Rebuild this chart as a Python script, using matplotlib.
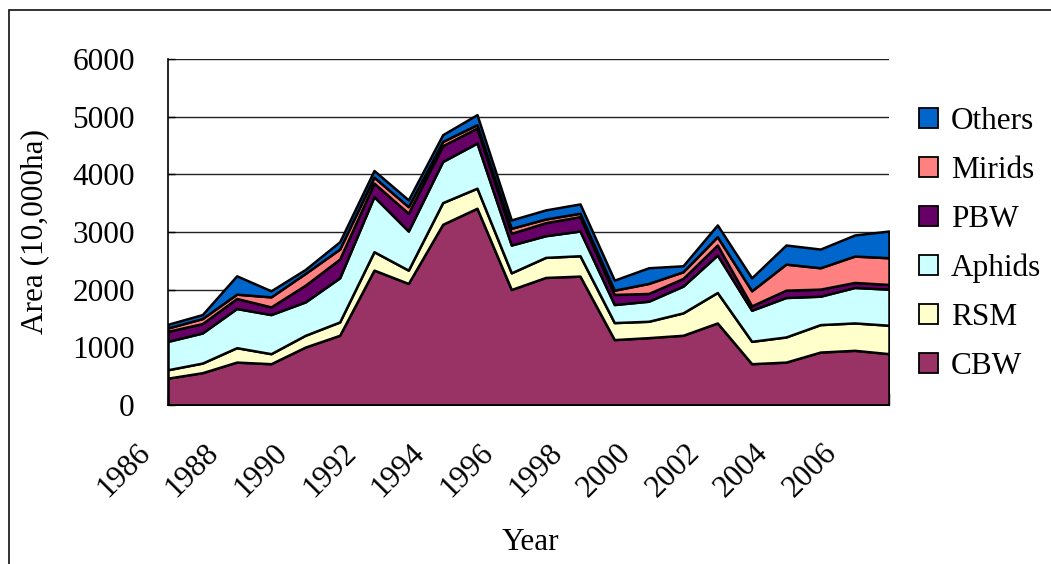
import matplotlib.pyplot as plt
import matplotlib.transforms as mtransforms
from matplotlib.patches import Patch, Rectangle

years = list(range(1986, 2008))

# areas per pest, 10,000 ha
cbw = [466, 560, 744, 716, 1005, 1209, 2339, 2108, 3133, 3412, 2003,
       2212, 2235, 1134, 1168, 1209, 1423, 716, 744, 918, 948, 890]
rsm = [146, 167, 250, 174, 204, 231, 319, 231, 377, 348, 289,
       348, 353, 295, 284, 388, 528, 388, 436, 476, 475, 493]
aphids = [492, 522, 679, 678, 579, 765, 956, 678, 713, 782, 482,
          376, 429, 313, 348, 464, 649, 539, 684, 493, 615, 626]
pbw = [174, 163, 174, 133, 290, 325, 233, 308, 273, 261, 203,
       226, 249, 175, 134, 133, 174, 76, 127, 122, 87, 81]
mirids = [58, 87, 75, 174, 204, 174, 104, 115, 75, 58, 87,
          64, 59, 74, 174, 116, 145, 261, 452, 371, 458, 463]
others = [64, 69, 318, 105, 69, 127, 115, 117, 116, 174, 145,
          157, 162, 174, 272, 104, 203, 225, 331, 324, 365, 464]

names = ["CBW", "RSM", "Aphids", "PBW", "Mirids", "Others"]
colors = ["#993366", "#FFFFCC", "#CCFFFF", "#660066", "#FF8080", "#0066CC"]

plt.rcParams['font.family'] = ['Liberation Serif', 'DejaVu Serif']
fs = 22.5

fig = plt.figure(figsize=(10.51, 5.64), dpi=100)
ax = fig.add_axes([168 / 1051, 1 - 405 / 564, (889 - 168) / 1051, (405 - 59) / 564])

# outer frame (only top and left edges visible in the original)
fig.patches.append(Rectangle((9 / 1051, -0.1), 1.2, 1 - 10 / 564 + 0.1,
                             transform=fig.transFigure, fill=False,
                             edgecolor="#222222", linewidth=1.3))

idx = list(range(len(years)))
ax.stackplot(idx, cbw, rsm, aphids, pbw, mirids, others,
             colors=colors, edgecolor="black", linewidth=1.8, zorder=3)

ax.set_xlim(0, len(years) - 1)
ax.set_ylim(0, 6000)
ax.set_yticks(range(0, 6001, 1000))
ax.yaxis.grid(True, color="#222222", linewidth=1.0, zorder=0)
ax.set_axisbelow(True)
for s in ["top", "right"]:
    ax.spines[s].set_visible(False)
ax.spines["left"].set_linewidth(1.2)
ax.spines["bottom"].set_linewidth(1.2)
ax.spines["left"].set_zorder(5)
ax.spines["bottom"].set_zorder(5)

ax.set_xticks(idx)
ax.set_xticklabels([str(y) if (y - 1986) % 2 == 0 else "" for y in years],
                   fontsize=fs, rotation=45, ha="right", va="top")
ax.tick_params(axis="x", direction="in", length=9, width=1, pad=24, zorder=6)
ax.tick_params(axis="y", direction="in", length=5, width=1, pad=24, labelsize=fs)

shift = mtransforms.ScaledTranslation(-12 / 100, 0, fig.dpi_scale_trans)
for lbl in ax.get_xticklabels():
    lbl.set_transform(lbl.get_transform() + shift)

fig.text(35 / 1051, 1 - 232 / 564, "Area (10,000ha)", rotation=90,
         ha="center", va="center", fontsize=fs)
fig.text(530 / 1051, 1 - 542 / 564, "Year", ha="center", va="center", fontsize=fs)

handles = [Patch(facecolor=c, edgecolor="black", linewidth=1.3) for c in colors]
fig.legend(handles[::-1], names[::-1], loc="center left",
           bbox_to_anchor=(919 / 1051, 1 - 244 / 564), frameon=False,
           fontsize=fs, handlelength=0.62, handleheight=0.62,
           handletextpad=0.4, labelspacing=0.64, borderpad=0, borderaxespad=0)

fig.savefig("out.png", dpi=100)
